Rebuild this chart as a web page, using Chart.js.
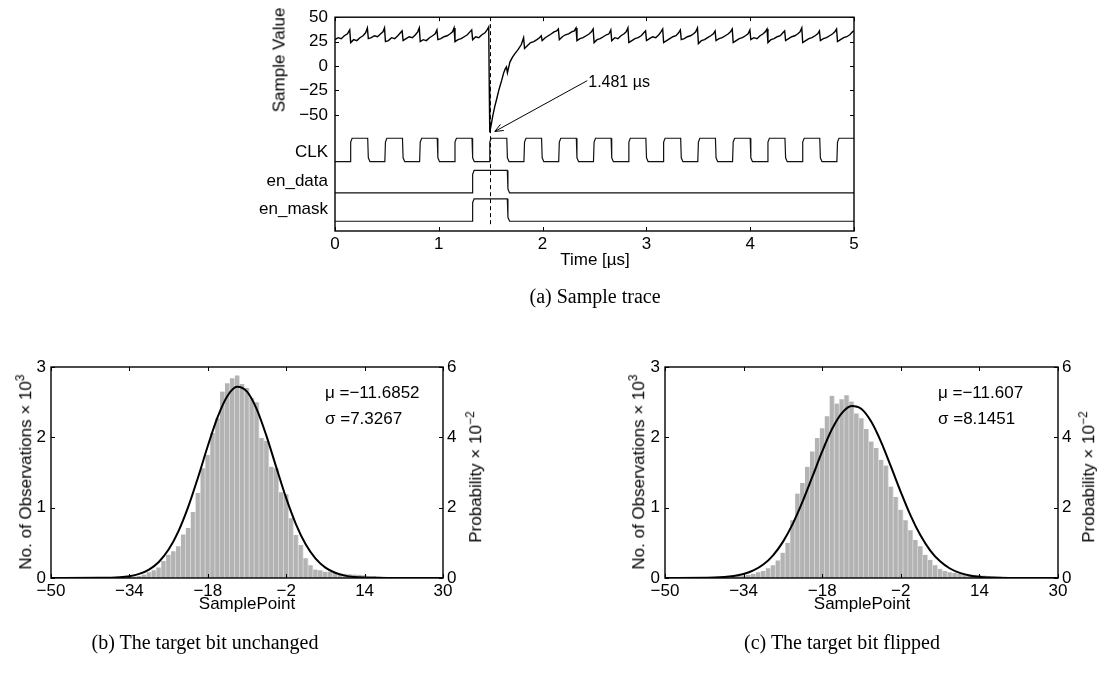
<!DOCTYPE html>
<html>
<head>
<meta charset="utf-8">
<script src="https://cdn.jsdelivr.net/npm/chart.js@4.4.0/dist/chart.umd.min.js"></script>
<style>
    body { margin: 0; background: #fff; }
    #page { position: relative; width: 1097px; height: 673px; overflow: hidden; font-family: "Liberation Sans", Arial, sans-serif; color: #000; }
    canvas { position: absolute; }
    .lbl { position: absolute; white-space: nowrap; font-size: 17px; line-height: 1; }
    .rot { transform: translate(-50%, -50%) rotate(-90deg); }
    .ctr { transform: translate(-50%, -50%); }
    .left { transform: translateY(-50%); }
    .cap { position: absolute; white-space: nowrap; font-family: "Liberation Serif", serif; font-size: 20px; transform: translate(-50%, -50%); }
    sup { font-size: 12px; }
</style>
</head>
<body>
<div id="page">
    <canvas id="trace" width="640" height="275" style="left:240px;top:0px"></canvas>
    <canvas id="histA" width="510" height="285" style="left:0px;top:330px"></canvas>
    <canvas id="histB" width="497" height="285" style="left:600px;top:330px"></canvas>

    <div class="lbl rot" style="left:279px;top:60px;">Sample Value</div>
    <div class="lbl ctr" style="left:595px;top:259px;">Time [µs]</div>
    <div class="cap" style="left:595px;top:296px;">(a) Sample trace</div>

    <div class="lbl rot" style="left:24px;top:472px;">No. of Observations × 10<sup>3</sup></div>
    <div class="lbl rot" style="left:474px;top:477px;">Probability × 10<sup>−2</sup></div>
    <div class="lbl ctr" style="left:247px;top:603px;">SamplePoint</div>
    <div class="lbl left" style="left:325px;top:392px;">μ =−11.6852</div>
    <div class="lbl left" style="left:325px;top:418px;">σ =7.3267</div>
    <div class="cap" style="left:205px;top:642px;">(b) The target bit unchanged</div>

    <div class="lbl rot" style="left:637px;top:472px;">No. of Observations × 10<sup>3</sup></div>
    <div class="lbl rot" style="left:1087px;top:477px;">Probability × 10<sup>−2</sup></div>
    <div class="lbl ctr" style="left:862px;top:603px;">SamplePoint</div>
    <div class="lbl left" style="left:938px;top:392px;">μ =−11.607</div>
    <div class="lbl left" style="left:938px;top:418px;">σ =8.1451</div>
    <div class="cap" style="left:842px;top:642px;">(c) The target bit flipped</div>
</div>

<script>
// ---------- (a) sample trace ----------
const timeTicks = [0, 1, 2, 3, 4, 5];
const valueTicks = [-50, -25, 0, 25, 50];
const signalNames = ['CLK', 'en_data', 'en_mask'];
const signalRows = [-88, -118, -147];      // value-axis rows where the names sit
const clkLevels = [-98, -74];              // low, high
const enDataLevels = [-130, -107];
const enMaskLevels = [-159, -136];
const clkRise = [0.145, 0.480, 0.815, 1.150, 1.485, 1.820, 2.155, 2.490, 2.825, 3.160, 3.495, 3.830, 4.165, 4.500, 4.835];
const clkFall = [0.315, 0.650, 0.985, 1.320, 1.655, 1.990, 2.325, 2.660, 2.995, 3.330, 3.665, 4.000, 4.335, 4.670];
const enDataRise = [1.32];
const enDataFall = [1.66];
const enMaskRise = [1.32];
const enMaskFall = [1.66];

// [time µs, sample value]
const sampleTrace = [
    [0.000,27],[0.030,29],[0.060,28],[0.090,31],[0.120,33],[0.142,37],
    [0.151,24],[0.180,27],[0.210,26],[0.240,29],[0.270,31],[0.295,34],[0.312,39],
    [0.321,28],[0.350,29],[0.380,31],[0.410,30],[0.440,33],[0.462,35],[0.477,39],
    [0.486,25],[0.515,26],[0.545,29],[0.575,28],[0.605,31],[0.630,34],[0.647,36],
    [0.656,26],[0.685,28],[0.715,30],[0.745,29],[0.775,32],[0.797,35],[0.812,39],
    [0.821,25],[0.850,27],[0.880,26],[0.910,29],[0.940,31],[0.965,33],[0.982,37],
    [0.991,27],[1.020,28],[1.050,30],[1.080,31],[1.110,33],[1.132,35],[1.147,39],
    [1.156,25],[1.185,27],[1.215,28],[1.245,30],[1.275,32],[1.300,35],[1.317,37],
    [1.326,27],[1.355,30],[1.385,29],[1.415,32],[1.445,34],[1.465,37],[1.481,40],
    [1.486,-20],[1.491,-68],[1.505,-60],[1.522,-50],[1.540,-41],[1.557,-34],[1.580,-24],
    [1.605,-15],[1.625,-7],[1.640,-3],[1.652,-1],
    [1.661,-7],[1.685,4],[1.710,9],[1.735,13],[1.765,17],[1.795,22],[1.817,29],
    [1.826,18],[1.855,21],[1.885,24],[1.915,25],[1.945,27],[1.970,29],[1.987,31],
    [1.996,26],[2.025,29],[2.055,31],[2.085,33],[2.110,35],[2.135,36],[2.152,38],
    [2.161,27],[2.190,30],[2.220,32],[2.250,33],[2.280,35],[2.305,36],[2.322,39],
    [2.331,26],[2.360,28],[2.390,29],[2.420,31],[2.450,33],[2.470,35],[2.487,38],
    [2.496,24],[2.525,27],[2.555,28],[2.585,30],[2.615,32],[2.640,33],[2.657,37],
    [2.666,26],[2.695,29],[2.725,28],[2.755,31],[2.785,33],[2.805,35],[2.822,39],
    [2.831,24],[2.860,26],[2.890,28],[2.920,29],[2.950,31],[2.975,34],[2.992,36],
    [3.001,26],[3.030,28],[3.060,30],[3.090,29],[3.120,32],[3.140,35],[3.157,38],
    [3.166,24],[3.195,26],[3.225,28],[3.255,30],[3.285,31],[3.310,34],[3.327,37],
    [3.336,27],[3.365,28],[3.395,30],[3.425,31],[3.455,33],[3.475,35],[3.492,39],
    [3.501,23],[3.530,26],[3.560,27],[3.590,29],[3.620,31],[3.645,33],[3.662,36],
    [3.671,26],[3.700,28],[3.730,29],[3.760,31],[3.790,33],[3.810,35],[3.827,38],
    [3.836,24],[3.865,26],[3.895,28],[3.925,29],[3.955,31],[3.980,33],[3.997,37],
    [4.006,27],[4.035,29],[4.065,28],[4.095,31],[4.125,33],[4.145,35],[4.162,38],
    [4.171,24],[4.200,27],[4.230,28],[4.260,30],[4.290,31],[4.315,34],[4.332,36],
    [4.341,26],[4.370,28],[4.400,30],[4.430,31],[4.460,33],[4.480,35],[4.497,39],
    [4.506,24],[4.535,26],[4.565,28],[4.595,29],[4.625,31],[4.650,33],[4.667,36],
    [4.676,26],[4.705,28],[4.735,29],[4.765,31],[4.795,33],[4.815,35],[4.832,38],
    [4.841,25],[4.870,27],[4.900,29],[4.930,30],[4.960,32],[4.985,35],[5.000,36]
];

// annotation of the minimum
const markTime = 1.49;
const markSpan = [50, -165];
const arrowTip = [1.54, -67];
const arrowTail = [2.43, -15];
const markLabel = '1.481 µs';

// ---------- (b), (c) histograms ----------
const histBins = [];
for (let b = -36; b <= 22; b++) histBins.push(b);   // bin centres, width 1
const countsUnchanged = [
    0.005, 0.01, 0.015, 0.02, 0.03, 0.05, 0.08, 0.11, 0.15, 0.24,
    0.33, 0.38, 0.45, 0.62, 0.71, 0.94, 1.21, 1.56, 1.75, 2.06,
    2.27, 2.65, 2.77, 2.84, 2.88, 2.76, 2.70, 2.56, 2.50, 1.99,
    1.95, 1.58, 1.56, 1.22, 1.19, 0.85, 0.61, 0.47, 0.28, 0.18,
    0.12, 0.11, 0.09, 0.09, 0.07, 0.065, 0.06, 0.055, 0.05, 0.045,
    0.04, 0.03, 0.03, 0.02, 0.01, 0.005, 0.003, 0, 0
];
const countsFlipped = [
    0.02, 0.03, 0.035, 0.045, 0.06, 0.08, 0.10, 0.14, 0.18, 0.25,
    0.36, 0.50, 0.82, 1.20, 1.35, 1.58, 1.80, 1.99, 2.13, 2.30,
    2.59, 2.48, 2.54, 2.60, 2.51, 2.34, 2.27, 2.12, 1.94, 1.85,
    1.68, 1.60, 1.30, 1.15, 0.97, 0.82, 0.68, 0.54, 0.45, 0.33,
    0.26, 0.18, 0.13, 0.10, 0.08, 0.07, 0.06, 0.055, 0.05, 0.045,
    0.04, 0.035, 0.03, 0.025, 0.02, 0.015, 0.01, 0.008, 0.005
];
const fitX = [-50, -40, -36, -34, -32, -30, -28, -26, -24, -22, -20, -18, -16, -14, -12, -10, -8, -6, -4, -2, 0, 2, 4, 6, 8, 10, 12, 14, 16, 20, 30];
const fitUnchanged = [0, 0.002, 0.011, 0.026, 0.058, 0.120, 0.228, 0.404, 0.663, 1.010, 1.429, 1.877, 2.287, 2.588, 2.718, 2.649, 2.397, 2.013, 1.569, 1.135, 0.763, 0.475, 0.275, 0.148, 0.074, 0.034, 0.015, 0.006, 0.002, 0, 0];
const fitFlipped = [0, 0.006, 0.028, 0.056, 0.107, 0.191, 0.323, 0.514, 0.770, 1.085, 1.440, 1.800, 2.118, 2.345, 2.446, 2.402, 2.220, 1.932, 1.583, 1.222, 0.887, 0.607, 0.390, 0.237, 0.135, 0.073, 0.037, 0.018, 0.008, 0.001, 0];
const sampleTicks = [-50, -34, -18, -2, 14, 30];
const countTicks = [0, 1, 2, 3];
const probTicks = [0, 2, 4, 6];

// ---------- helpers ----------
const FONT = '"Liberation Sans", Arial, sans-serif';
Chart.defaults.font.family = FONT;
Chart.defaults.font.size = 17;
Chart.defaults.color = '#000';

function fmt(v) {
    return v < 0 ? '\u2212' + Math.abs(v) : String(v);
}

function pulseTrain(rises, falls, levels) {
    const [lo, hi] = levels;
    const pts = [{x: 0, y: lo}];
    let last = lo;
    rises.forEach((r, i) => {
        pts.push({x: r, y: lo}, {x: r + 0.006, y: hi - 4}, {x: r + 0.02, y: hi});
        last = hi;
        if (falls[i] !== undefined) {
            pts.push({x: falls[i], y: hi}, {x: falls[i] + 0.006, y: lo + 4}, {x: falls[i] + 0.022, y: lo});
            last = lo;
        }
    });
    pts.push({x: 5, y: last});
    return pts;
}

function fixTicks(list) {
    return function(scale) {
        scale.ticks = list.slice().sort((a, b) => a - b).map(v => ({value: v}));
    };
}

const noGrid = { display: false, drawTicks: false };

// MATLAB style box with inward ticks
function boxTicks(cfg) {
    return {
        id: 'boxTicks',
        afterDatasetsDraw(chart) {
            const {ctx, chartArea: a, scales} = chart;
            const L = 4;
            ctx.save();
            ctx.strokeStyle = '#000';
            ctx.lineWidth = 1;
            ctx.beginPath();
            cfg.xTicks.forEach(v => {
                const px = Math.round(scales.x.getPixelForValue(v)) + 0.5;
                ctx.moveTo(px, a.bottom); ctx.lineTo(px, a.bottom - L);
                ctx.moveTo(px, a.top); ctx.lineTo(px, a.top + L);
            });
            cfg.leftTicks.forEach(v => {
                const py = Math.round(scales.y.getPixelForValue(v)) + 0.5;
                ctx.moveTo(a.left, py); ctx.lineTo(a.left + L, py);
            });
            const rs = scales[cfg.rightScale];
            cfg.rightTicks.forEach(v => {
                const py = Math.round(rs.getPixelForValue(v)) + 0.5;
                ctx.moveTo(a.right, py); ctx.lineTo(a.right - L, py);
            });
            ctx.stroke();
            ctx.lineWidth = 1.4;
            ctx.strokeRect(a.left, a.top, a.right - a.left, a.bottom - a.top);
            ctx.restore();
        }
    };
}

const peakMark = {
    id: 'peakMark',
    afterDatasetsDraw(chart) {
        const {ctx, scales: {x, y}} = chart;
        ctx.save();
        ctx.strokeStyle = '#000';
        ctx.lineWidth = 1;
        ctx.setLineDash([4, 3]);
        const mx = Math.round(x.getPixelForValue(markTime)) + 0.5;
        ctx.beginPath();
        ctx.moveTo(mx, y.getPixelForValue(markSpan[0]));
        ctx.lineTo(mx, y.getPixelForValue(markSpan[1]));
        ctx.stroke();
        ctx.setLineDash([]);

        const tx = x.getPixelForValue(arrowTip[0]), ty = y.getPixelForValue(arrowTip[1]);
        const sx = x.getPixelForValue(arrowTail[0]), sy = y.getPixelForValue(arrowTail[1]);
        const ang = Math.atan2(sy - ty, sx - tx);
        ctx.beginPath();
        ctx.moveTo(sx, sy); ctx.lineTo(tx, ty);
        ctx.moveTo(tx + 9 * Math.cos(ang + 0.4), ty + 9 * Math.sin(ang + 0.4));
        ctx.lineTo(tx, ty);
        ctx.lineTo(tx + 9 * Math.cos(ang - 0.4), ty + 9 * Math.sin(ang - 0.4));
        ctx.stroke();

        ctx.font = '16px ' + FONT;
        ctx.fillStyle = '#000';
        ctx.textAlign = 'left';
        ctx.textBaseline = 'middle';
        ctx.fillText(markLabel, sx + 1, sy + 2);
        ctx.restore();
    }
};

// ---------- chart (a) ----------
new Chart(document.getElementById('trace'), {
    type: 'line',
    data: {
        datasets: [
            { data: sampleTrace.map(([t, v]) => ({x: t, y: v})), borderColor: '#000', borderWidth: 1.4 },
            { data: pulseTrain(clkRise, clkFall, clkLevels), borderColor: '#111', borderWidth: 1.2 },
            { data: pulseTrain(enDataRise, enDataFall, enDataLevels), borderColor: '#111', borderWidth: 1.2 },
            { data: pulseTrain(enMaskRise, enMaskFall, enMaskLevels), borderColor: '#111', borderWidth: 1.2 }
        ]
    },
    options: {
        responsive: false,
        animation: false,
        events: [],
        layout: { padding: { top: 16, right: 26, left: 0, bottom: 0 } },
        elements: { point: { radius: 0 }, line: { tension: 0 } },
        plugins: { legend: { display: false }, tooltip: { enabled: false } },
        scales: {
            x: {
                type: 'linear', min: 0, max: 5,
                grid: noGrid, border: { display: false },
                afterBuildTicks: fixTicks(timeTicks),
                afterFit: s => { s.height = 44; },
                ticks: { padding: 3, maxRotation: 0, autoSkip: false, callback: v => fmt(v) }
            },
            y: {
                type: 'linear', min: -169, max: 50,
                grid: noGrid, border: { display: false },
                afterBuildTicks: fixTicks(signalRows.concat(valueTicks)),
                afterFit: s => { s.width = 95; },
                ticks: {
                    padding: 7, autoSkip: false,
                    callback: v => {
                        const i = signalRows.indexOf(v);
                        return i >= 0 ? signalNames[i] : fmt(v);
                    }
                }
            }
        }
    },
    plugins: [boxTicks({ xTicks: timeTicks, leftTicks: valueTicks, rightScale: 'y', rightTicks: valueTicks }), peakMark]
});

// ---------- charts (b), (c) ----------
function histogram(id, counts, fit, leftWidth, rightWidth) {
    new Chart(document.getElementById(id), {
        type: 'bar',
        data: {
            datasets: [
                {
                    type: 'line',
                    data: fitX.map((x, i) => ({x: x, y: fit[i]})),
                    borderColor: '#000', borderWidth: 2, pointRadius: 0,
                    cubicInterpolationMode: 'monotone', order: 0
                },
                {
                    data: histBins.map((b, i) => ({x: b, y: counts[i]})),
                    backgroundColor: '#b3b3b3',
                    borderColor: '#dedede',
                    borderWidth: { left: 0, right: 1, top: 0, bottom: 0 },
                    borderSkipped: false,
                    barPercentage: 1, categoryPercentage: 1, order: 1
                }
            ]
        },
        options: {
            responsive: false,
            animation: false,
            events: [],
            layout: { padding: { top: 37, right: 0, left: 0, bottom: 0 } },
            plugins: { legend: { display: false }, tooltip: { enabled: false } },
            scales: {
                x: {
                    type: 'linear', min: -50, max: 30, offset: false,
                    grid: noGrid, border: { display: false },
                    afterBuildTicks: fixTicks(sampleTicks),
                    afterFit: s => { s.height = 37; },
                    ticks: { padding: 3, maxRotation: 0, autoSkip: false, callback: v => fmt(v) }
                },
                y: {
                    type: 'linear', position: 'left', min: 0, max: 3,
                    grid: noGrid, border: { display: false },
                    afterBuildTicks: fixTicks(countTicks),
                    afterFit: s => { s.width = leftWidth; },
                    ticks: { padding: 5, autoSkip: false, callback: v => fmt(v) }
                },
                y2: {
                    type: 'linear', position: 'right', min: 0, max: 6, display: true,
                    grid: noGrid, border: { display: false },
                    afterBuildTicks: fixTicks(probTicks),
                    afterFit: s => { s.width = rightWidth; },
                    ticks: { padding: 4, autoSkip: false, callback: v => fmt(v) }
                }
            }
        },
        plugins: [boxTicks({ xTicks: sampleTicks, leftTicks: countTicks, rightScale: 'y2', rightTicks: probTicks })]
    });
}

histogram('histA', countsUnchanged, fitUnchanged, 51, 67);
histogram('histB', countsFlipped, fitFlipped, 65, 39);
</script>
</body>
</html>
